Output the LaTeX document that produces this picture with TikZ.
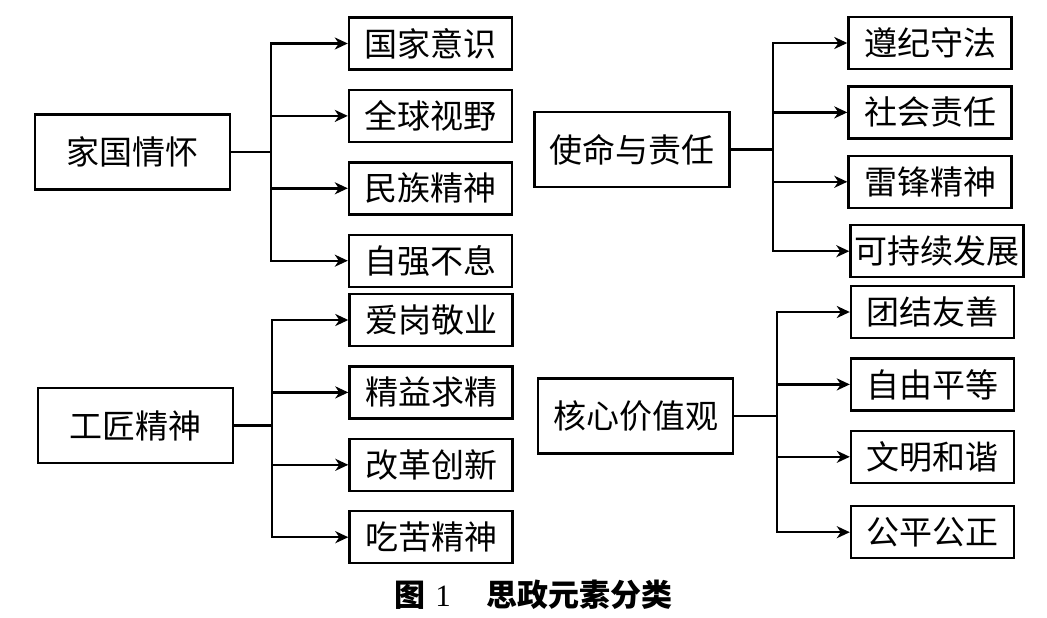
\documentclass[tikz,border=0pt]{standalone}
\usepackage{fontspec}
\setmainfont{Liberation Serif}
\newfontfamily\cjk{Noto Sans CJK SC}
\usetikzlibrary{arrows.meta, positioning}
\tikzset{
    root/.style={
        rectangle,
        draw=black,
        line width=2.4pt,
        minimum width=195pt,
        minimum height=75pt,
        inner sep=2pt,
        font=\cjk\fontsize{33}{38}\selectfont
    },
    leaf/.style={
        rectangle,
        draw=black,
        line width=2.4pt,
        minimum width=163pt,
        minimum height=52pt,
        inner sep=4pt,
        font=\cjk\fontsize{33}{38}\selectfont
    },
    arrow/.style={
        -{Stealth[length=13pt,width=12pt,inset=4pt]},
        line width=2.4pt
    }
}

\begin{document}
\begin{tikzpicture}[x=1pt, y=-1pt, node distance=18pt and 0pt]
            \useasboundingbox (0,0) rectangle (1047,618);

            % 家国情怀
            \node[root] (jiaguo) at (132.5,152) {家国情怀};
            \node[leaf] (guojia)  at (430.5,43.5)        {国家意识};
            \node[leaf, below=of guojia]  (quanqiu) {全球视野};
            \node[leaf, below=of quanqiu] (minzu)   {民族精神};
            \node[leaf, below=of minzu]   (ziqiang) {自强不息};

            % 使命与责任
            \node[root] (shiming) at (632,149.5) {使命与责任};
            \node[leaf] (zunji)   at (930,43)             {遵纪守法};
            \node[leaf, below=15pt of zunji]  (shehui)  {社会责任};
            \node[leaf, below=15pt of shehui] (leifeng) {雷锋精神};
            \node[leaf, below=15pt of leifeng, xshift=7pt] (kechixu) {可持续发展};

            % 工匠精神
            \node[root] (gongjiang) at (135.5,425.5) {工匠精神};
            \node[leaf] (aigang)  at (431,320)            {爱岗敬业};
            \node[leaf, below=of aigang]  (jingyi)  {精益求精};
            \node[leaf, below=of jingyi]  (gaige)   {改革创新};
            \node[leaf, below=of gaige]   (chiku)   {吃苦精神};

            % 核心价值观
            \node[root] (hexin) at (635.5,416) {核心价值观};
            \node[leaf] (tuanjie) at (932.5,312)          {团结友善};
            \node[leaf, below=of tuanjie]     (ziyou)   {自由平等};
            \node[leaf, below=of ziyou]       (wenming) {文明和谐};
            \node[leaf, below=21pt of wenming] (gongping) {公平公正};

            \node (caption) at (533.5,595) {\cjk\fontsize{31}{34}\selectfont\bfseries 图\hspace{10pt}{\rmfamily\mdseries 1}\hspace{36pt}思政元素分类};

            \draw[arrow] (jiaguo.east) -- ++(40,0) |- (guojia.west);
            \draw[arrow] (jiaguo.east) -- ++(40,0) |- (quanqiu.west);
            \draw[arrow] (jiaguo.east) -- ++(40,0) |- (minzu.west);
            \draw[arrow] (jiaguo.east) -- ++(40,0) |- (ziqiang.west);

            \draw[arrow] (shiming.east) -- ++(42,0) |- (zunji.west);
            \draw[arrow] (shiming.east) -- ++(42,0) |- (shehui.west);
            \draw[arrow] (shiming.east) -- ++(42,0) |- (leifeng.west);
            \draw[arrow] (shiming.east) -- ++(42,0) |- (kechixu.west);

            \draw[arrow] (gongjiang.east) -- ++(38,0) |- (aigang.west);
            \draw[arrow] (gongjiang.east) -- ++(38,0) |- (jingyi.west);
            \draw[arrow] (gongjiang.east) -- ++(38,0) |- (gaige.west);
            \draw[arrow] (gongjiang.east) -- ++(38,0) |- (chiku.west);

            \draw[arrow] (hexin.east) -- ++(43,0) |- (tuanjie.west);
            \draw[arrow] (hexin.east) -- ++(43,0) |- (ziyou.west);
            \draw[arrow] (hexin.east) -- ++(43,0) |- (wenming.west);
            \draw[arrow] (hexin.east) -- ++(43,0) |- (gongping.west);
        \end{tikzpicture}
\end{document}
